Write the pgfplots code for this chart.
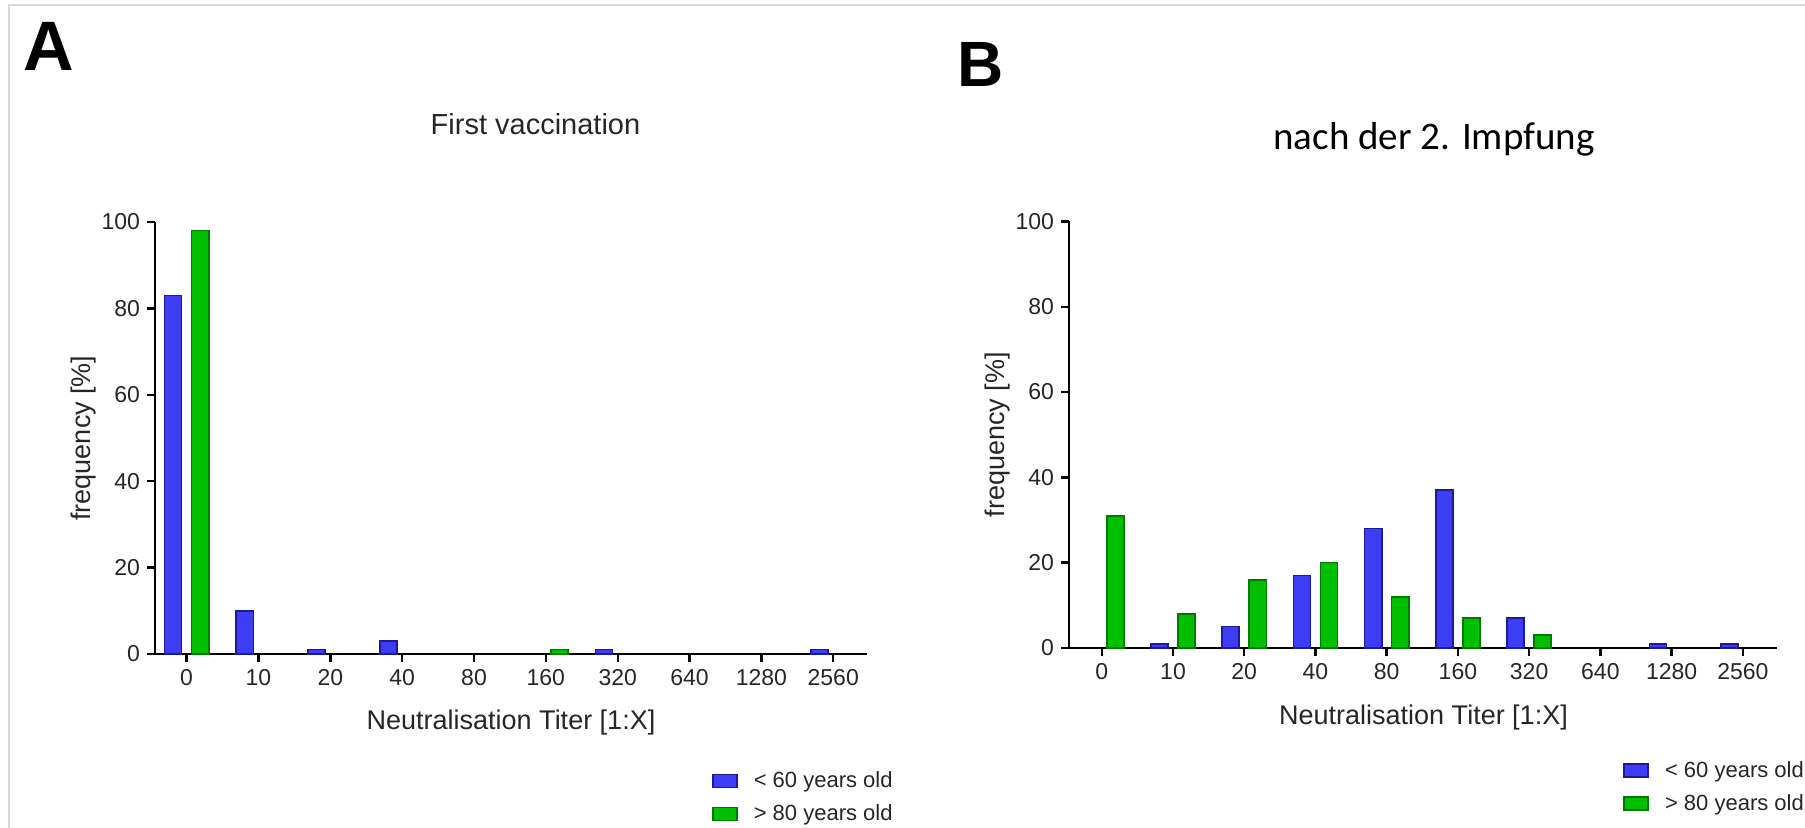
\documentclass[border=0pt]{standalone}
\usepackage{pgfplots}
\pgfplotsset{compat=1.18}
\usepackage{fontspec}
\setmainfont{Liberation Sans}
\newfontfamily\carlito{Carlito}
\definecolor{barblue}{HTML}{3D3DF5}
\definecolor{barblueedge}{HTML}{1A1A9A}
\definecolor{bargreen}{HTML}{00BE00}
\definecolor{bargreenedge}{HTML}{007A00}
\definecolor{txt}{HTML}{262626}

\pgfplotsset{
  panel/.style={
    scale only axis,
    axis x line=bottom, axis y line=left,
    axis line style={-, line width=1.2pt, black},
    ymin=0, ymax=100, ytick={0,20,...,100},
    xtick={0,...,9},
    xticklabels={0,10,20,40,80,160,320,640,1280,2560},
    minor tick num=0,
    tick align=outside,
    major tick length=4pt,
    every tick/.style={black, line width=1.2pt},
    tick label style={font=\fontsize{11.5}{13}\selectfont, text=txt},
    /pgf/number format/assume math mode=true,
    label style={font=\fontsize{13.5}{16}\selectfont, text=txt},
    ybar, bar width=0.24,
    legend style={draw=none, fill=none, inner sep=0pt, row sep=3pt,
      font=\fontsize{11}{13}\selectfont, text=txt, anchor=north west,
      cells={anchor=west}},
    legend image code/.code={\draw[#1, line width=0.8pt] (0pt,-3.25pt) rectangle (12pt,3.25pt); \path (18pt,0pt);},
    clip=false,
  },
  blueb/.style={fill=barblue, draw=barblueedge, line width=0.8pt, bar shift=-0.19},
  greenb/.style={fill=bargreen, draw=bargreenedge, line width=0.8pt, bar shift=0.19},
}

\begin{document}
\begin{tikzpicture}
\useasboundingbox (0pt,0pt) rectangle (902.5pt,-414pt);
\draw[gray!30, line width=1pt] (4.5pt,-414pt) -- (4.5pt,-2.5pt) -- (902.5pt,-2.5pt);

% Panel A
\begin{axis}[panel,
  at={(77.5pt,-327pt)}, anchor=south west,
  width=356pt, height=216pt,
  xmin=-0.44, xmax=9.47,
  xlabel={Neutralisation Titer [1:X]},
  ylabel={frequency [\%]},
  xlabel style={at={(axis description cs:0.5,-0.158)}, anchor=center},
  ylabel style={at={(axis description cs:-0.101,0.5)}, anchor=center},
  legend style={at={(axis description cs:0.782,-0.262)}},
]
\addplot[blueb] coordinates {(0,83) (1,10) (2,1) (3,3) (6,1) (9,1)};
\addplot[greenb] coordinates {(0,98) (5,1)};
\legend{< 60 years old, > 80 years old}
\end{axis}

% Panel B
\begin{axis}[panel,
  at={(534.5pt,-324pt)}, anchor=south west,
  width=354pt, height=213.3pt,
  xmin=-0.46, xmax=9.48,
  xlabel={Neutralisation Titer [1:X]},
  ylabel={frequency [\%]},
  xlabel style={at={(axis description cs:0.5007,-0.163)}, anchor=center},
  ylabel style={at={(axis description cs:-0.1003,0.5)}, anchor=center},
  legend style={at={(axis description cs:0.7825,-0.255)}},
]
\addplot[blueb] coordinates {(1,1) (2,5) (3,17) (4,28) (5,37) (6,7) (8,1) (9,1)};
\addplot[greenb] coordinates {(0,31) (1,8) (2,16) (3,20) (4,12) (5,7) (6,3)};
\legend{< 60 years old, > 80 years old}
\end{axis}

\node[anchor=base, font=\fontsize{14.5}{17}\selectfont, text=txt] at (267.75pt,-67.5pt) {First vaccination};
\node[anchor=base, font=\carlito\fontsize{19.5}{23}\selectfont] at (717pt,-75pt) {nach der 2. Impfung};
\node[anchor=base west, inner sep=0pt, font=\bfseries\fontsize{35}{40}\selectfont] at (11.5pt,-35.5pt) {A};
\node[anchor=base west, inner sep=0pt, font=\bfseries\fontsize{32}{38}\selectfont] at (478.5pt,-43.5pt) {B};
\end{tikzpicture}
\end{document}
